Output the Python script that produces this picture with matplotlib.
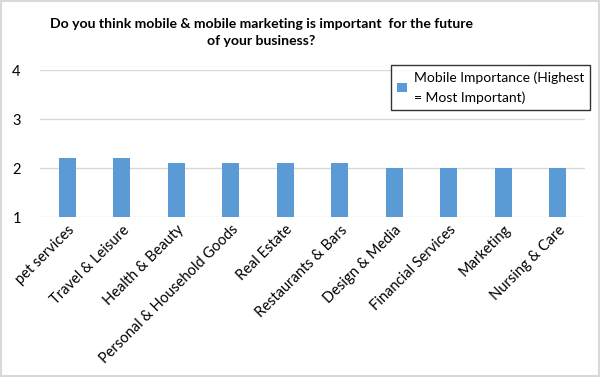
import matplotlib
matplotlib.use("Agg")
import matplotlib.pyplot as plt
from matplotlib.patches import Rectangle

categories = ["pet services", "Travel & Leisure", "Health & Beauty",
              "Personal & Household Goods", "Real Estate", "Restaurants & Bars",
              "Design & Media", "Financial Services", "Marketing", "Nursing & Care"]
importance = [2.2, 2.2, 2.1, 2.1, 2.1, 2.1, 2.0, 2.0, 2.0, 2.0]
yticks = [1, 2, 3, 4]

plt.rcParams["font.family"] = ["Lato", "DejaVu Sans"]

fig = plt.figure(figsize=(6, 3.77), dpi=100)
fig.patches.append(Rectangle((0.002, 0.003), 0.996, 0.994, transform=fig.transFigure,
                             fill=False, edgecolor="#d9d9d9", lw=1.5))
ax = fig.add_axes([0.067, 0.424, 0.908, 0.39])

x = range(len(categories))
ax.bar(x, [v - 1 for v in importance], bottom=1, width=0.31, color="#5b9bd5",
       label="Mobile Importance (Highest\n= Most Important)", zorder=3)
ax.set_ylim(1, 4)
ax.set_xlim(-0.5, len(categories) - 0.5)
ax.set_yticks(yticks)
ax.set_xticks(list(x))
ax.set_xticklabels(categories, rotation=45, ha="right", rotation_mode="anchor",
                   fontsize=10.5, color="#000000")
ax.tick_params(axis="y", labelsize=10.5, length=0, pad=14)
ax.tick_params(axis="x", length=0, pad=4)
ax.grid(axis="y", color="#d9d9d9", lw=1, zorder=0)
for s in ax.spines.values():
    s.set_visible(False)

fig.text(0.435, 0.913, "Do you think mobile & mobile marketing is important  for the future\nof your business?",
         fontsize=10.1, fontweight="bold", ha="center", va="center", linespacing=1.5)

leg = ax.legend(loc="upper right", bbox_to_anchor=(1.01, 1.035), fontsize=10,
                frameon=True, fancybox=False, handlelength=0.7, handleheight=0.7,
                handletextpad=0.5, borderpad=0.45, borderaxespad=0)
leg.get_texts()[0].set_linespacing(1.7)
leg.get_frame().set_edgecolor("black")
leg.get_frame().set_linewidth(1)

fig.savefig("out.png", dpi=100)
